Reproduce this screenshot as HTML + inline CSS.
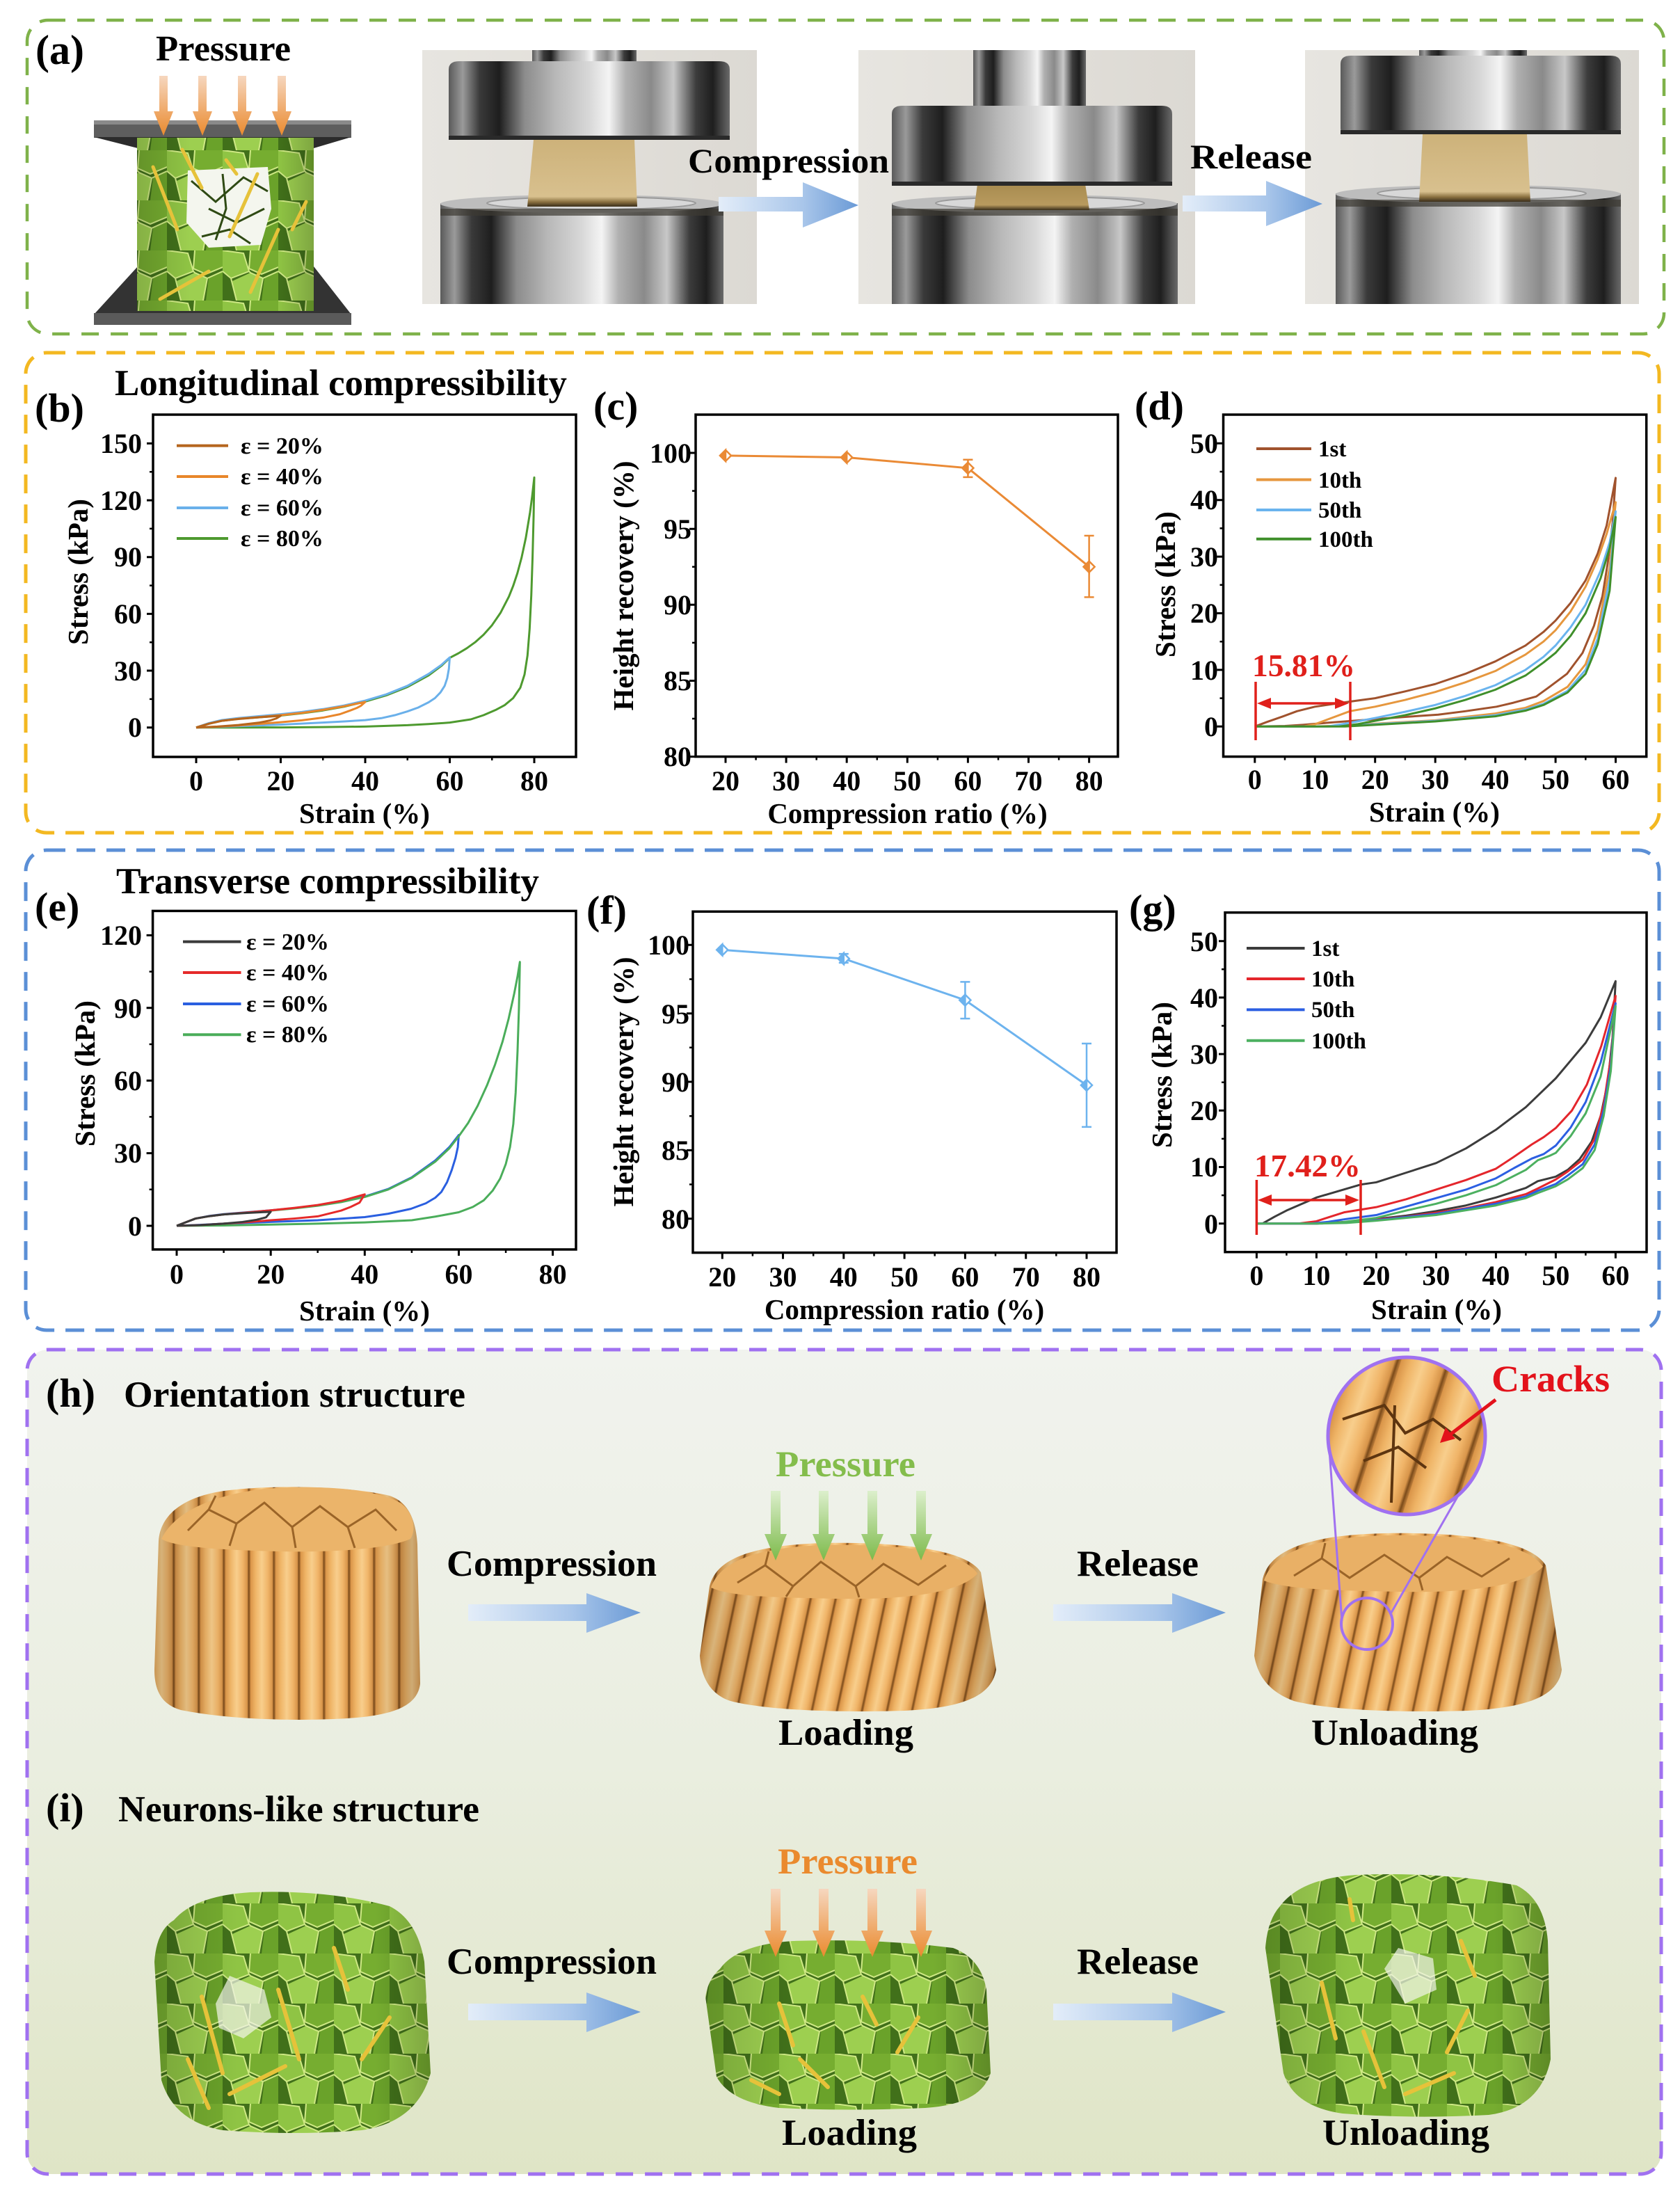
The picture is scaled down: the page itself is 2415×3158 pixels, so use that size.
<!DOCTYPE html>
<html><head><meta charset="utf-8"><style>
html,body{margin:0;padding:0;background:#fff;}
svg{display:block;}
.t{font-family:"Liberation Serif","Times New Roman",serif;font-weight:bold;fill:#000;}
</style></head><body>
<svg width="2415" height="3158" viewBox="0 0 2415 3158" xmlns="http://www.w3.org/2000/svg">
<defs>
<linearGradient id="metal" x1="0" x2="1" y1="0" y2="0">
<stop offset="0" stop-color="#5a5a5a"/><stop offset="0.05" stop-color="#9a9a9a"/><stop offset="0.11" stop-color="#3a3a3a"/><stop offset="0.18" stop-color="#1e1e1e"/><stop offset="0.27" stop-color="#8c8c8c"/><stop offset="0.38" stop-color="#b8b8b8"/><stop offset="0.5" stop-color="#d8d8d8"/><stop offset="0.57" stop-color="#f4f4f4"/><stop offset="0.63" stop-color="#b0b0b0"/><stop offset="0.72" stop-color="#8a8a8a"/><stop offset="0.8" stop-color="#c8c8c8"/><stop offset="0.88" stop-color="#3c3c3c"/><stop offset="0.94" stop-color="#1e1e1e"/><stop offset="1" stop-color="#6a6a6a"/>
</linearGradient>
<linearGradient id="bgPhoto" x1="0" x2="1"><stop offset="0" stop-color="#e7e5e0"/><stop offset="1" stop-color="#dcd9d3"/></linearGradient>
<linearGradient id="sample" x1="0" x2="0" y1="0" y2="1"><stop offset="0" stop-color="#cdb27a"/><stop offset="0.85" stop-color="#d8c08e"/><stop offset="0.93" stop-color="#8a7040"/><stop offset="1" stop-color="#3a2e1a"/></linearGradient>
<linearGradient id="sample2" x1="0" x2="0" y1="0" y2="1"><stop offset="0" stop-color="#a88c50"/><stop offset="0.8" stop-color="#b89a5e"/><stop offset="1" stop-color="#3a2e1a"/></linearGradient>
<linearGradient id="blueArrow" x1="0" x2="1"><stop offset="0" stop-color="#e3edf9"/><stop offset="0.6" stop-color="#a9c6ea"/><stop offset="1" stop-color="#6a9ad6"/></linearGradient>
<linearGradient id="orArrow" x1="0" x2="0" y1="0" y2="1"><stop offset="0" stop-color="#f6d7bf"/><stop offset="1" stop-color="#ea8a2e"/></linearGradient>
<linearGradient id="grArrow" x1="0" x2="0" y1="0" y2="1"><stop offset="0" stop-color="#dcefcc"/><stop offset="1" stop-color="#7cba4a"/></linearGradient>
<linearGradient id="purpBg" x1="0" x2="0" y1="0" y2="1"><stop offset="0" stop-color="#f1f3ee"/><stop offset="0.5" stop-color="#eaeee0"/><stop offset="1" stop-color="#dfe5c6"/></linearGradient>
<linearGradient id="woodG" x1="0" x2="1" y1="0" y2="0">
<stop offset="0" stop-color="#d99448"/><stop offset="0.2" stop-color="#efb466"/><stop offset="0.45" stop-color="#f8ce8c"/><stop offset="0.7" stop-color="#f0b468"/><stop offset="0.87" stop-color="#d8954a"/><stop offset="0.93" stop-color="#7a4a1a"/><stop offset="1" stop-color="#c0803c"/>
</linearGradient>
<pattern id="wood" width="36" height="60" patternUnits="userSpaceOnUse"><rect width="36" height="60" fill="url(#woodG)"/></pattern>
<pattern id="woodS" width="36" height="60" patternUnits="userSpaceOnUse" patternTransform="skewX(-12)"><rect width="36" height="60" fill="url(#woodG)"/></pattern>
<pattern id="woodBig" width="70" height="90" patternUnits="userSpaceOnUse" patternTransform="rotate(18)"><rect width="70" height="90" fill="url(#woodG)"/></pattern>
<pattern id="foam" width="80" height="72" patternUnits="userSpaceOnUse">
<rect width="80" height="72" fill="#41701a"/>
<path d="M0 0 L30 4 L38 30 L12 40 L0 30Z" fill="#8fc444"/>
<path d="M40 0 L80 0 L80 24 L56 34 L38 26Z" fill="#76ad30"/>
<path d="M14 44 L40 32 L58 40 L52 72 L20 72Z" fill="#9dcf50"/>
<path d="M60 40 L80 30 L80 72 L56 72Z" fill="#6aa22a"/>
<path d="M0 0 L30 4 L38 30 L12 40 L0 30 M40 0 L38 26 L56 34 L80 24 M12 40 L20 72 M38 30 L40 32 L58 40 L52 72 M58 40 L80 30" fill="none" stroke="#cfe985" stroke-width="2"/>
</pattern>
<linearGradient id="shade" x1="0" x2="1" y1="0" y2="0"><stop offset="0" stop-color="#000" stop-opacity="0.15"/><stop offset="0.3" stop-color="#000" stop-opacity="0"/><stop offset="0.8" stop-color="#000" stop-opacity="0"/><stop offset="1" stop-color="#000" stop-opacity="0.2"/></linearGradient>
<clipPath id="cp1"><rect x="607" y="72" width="481" height="365"/></clipPath>
<clipPath id="cp2"><rect x="1234" y="72" width="484" height="365"/></clipPath>
<clipPath id="cp3"><rect x="1876" y="72" width="480" height="365"/></clipPath>
<clipPath id="mag"><circle cx="2022" cy="2064" r="113"/></clipPath>
</defs>

<!-- ===== Panel boxes ===== -->
<rect x="39" y="29" width="2353" height="451" rx="30" fill="none" stroke="#7fb24a" stroke-width="4.5" stroke-dasharray="25 17"/>
<rect x="37" y="507" width="2348" height="690" rx="30" fill="none" stroke="#f3b821" stroke-width="5" stroke-dasharray="27 16"/>
<rect x="37" y="1222" width="2348" height="690" rx="30" fill="none" stroke="#5b8fd6" stroke-width="5" stroke-dasharray="27 16"/>
<rect x="39" y="1940" width="2349" height="1185" rx="30" fill="url(#purpBg)" stroke="#a071f0" stroke-width="5" stroke-dasharray="25 17"/>

<!-- ===== Panel (a) ===== -->
<text class="t" x="51" y="92" font-size="60">(a)</text>
<text class="t" x="224" y="87" font-size="52" textLength="194" lengthAdjust="spacingAndGlyphs">Pressure</text>
<rect x="135" y="173" width="370" height="25" fill="#5e5e5e"/>
<rect x="135" y="173" width="370" height="6" fill="#8a8a8a"/>
<polygon points="135,197 505,197 451,213 198,213" fill="#2c2c2c"/>
<polygon points="198,383 451,383 505,452 135,452" fill="#333"/>
<rect x="135" y="450" width="370" height="17" fill="#5a5a5a"/>
<rect x="197" y="198" width="254" height="249" fill="url(#foam)"/>
<rect x="197" y="198" width="254" height="249" fill="url(#shade)"/>
<polygon points="270,245 385,240 390,300 375,352 300,356 268,320" fill="#f4f6ee"/>
<path d="M275 260 L310 290 L350 255 L385 275 M300 300 L340 320 L380 300 M290 340 L330 330 L360 350 M320 250 L325 300 L310 345" fill="none" stroke="#2f4a14" stroke-width="3"/>
<path d="M220 240 L255 330 M262 215 L290 270 M330 340 L370 250 M360 420 L400 330 M230 430 L300 390 M420 330 L440 290 M325 230 L340 250" stroke="#e6c23a" stroke-width="5" stroke-linecap="round"/>
<g fill="url(#orArrow)">
<path d="M229 109 h12 v51 h8 l-14 35 l-14 -35 h8z"/>
<path d="M285 109 h12 v51 h8 l-14 35 l-14 -35 h8z"/>
<path d="M342 109 h12 v51 h8 l-14 35 l-14 -35 h8z"/>
<path d="M399 109 h12 v51 h8 l-14 35 l-14 -35 h8z"/>
</g>

<g clip-path="url(#cp1)">
<rect x="607" y="72" width="481" height="365" fill="url(#bgPhoto)"/>
<rect x="765" y="72" width="150" height="24" fill="url(#metal)"/>
<rect x="633" y="292" width="407" height="150" fill="url(#metal)"/>
<ellipse cx="836" cy="293" rx="203" ry="13" fill="#bdbdbd"/>
<ellipse cx="850" cy="292" rx="150" ry="9" fill="#d8d8d8" stroke="#9a9a9a" stroke-width="2"/>
<rect x="633" y="300" width="407" height="10" fill="#3d3a33" opacity="0.7"/>
<path d="M767 201 L912 201 L916 297 L758 297 Z" fill="url(#sample)"/>
<path d="M645 100 Q645 88 660 88 L1034 88 Q1049 88 1049 100 L1049 192 Q1049 201 1040 201 L654 201 Q645 201 645 192 Z" fill="url(#metal)"/>
<rect x="645" y="195" width="404" height="6" fill="#2a2a2a"/>
</g>
<g clip-path="url(#cp2)">
<rect x="1234" y="72" width="484" height="365" fill="url(#bgPhoto)"/>
<rect x="1399" y="72" width="162" height="84" fill="url(#metal)"/>
<rect x="1282" y="292" width="411" height="150" fill="url(#metal)"/>
<ellipse cx="1487" cy="293" rx="205" ry="13" fill="#bdbdbd"/>
<ellipse cx="1495" cy="292" rx="150" ry="9" fill="#d8d8d8" stroke="#9a9a9a" stroke-width="2"/>
<rect x="1282" y="300" width="411" height="10" fill="#3d3a33" opacity="0.7"/>
<path d="M1405 265 L1560 265 L1566 302 L1400 302 Z" fill="url(#sample2)"/>
<path d="M1282 164 Q1282 152 1297 152 L1670 152 Q1685 152 1685 164 L1685 258 Q1685 267 1676 267 L1291 267 Q1282 267 1282 258 Z" fill="url(#metal)"/>
<rect x="1282" y="261" width="403" height="6" fill="#2a2a2a"/>
</g>
<g clip-path="url(#cp3)">
<rect x="1876" y="72" width="480" height="365" fill="url(#bgPhoto)"/>
<rect x="2040" y="72" width="155" height="14" fill="url(#metal)"/>
<rect x="1920" y="278" width="410" height="165" fill="url(#metal)"/>
<ellipse cx="2125" cy="279" rx="205" ry="13" fill="#bdbdbd"/>
<ellipse cx="2130" cy="278" rx="150" ry="9" fill="#d8d8d8" stroke="#9a9a9a" stroke-width="2"/>
<rect x="1920" y="287" width="410" height="10" fill="#3d3a33" opacity="0.7"/>
<path d="M2045 193 L2195 193 L2200 290 L2040 290 Z" fill="url(#sample)"/>
<path d="M1927 92 Q1927 80 1942 80 L2315 80 Q2330 80 2330 92 L2330 184 Q2330 193 2321 193 L1936 193 Q1927 193 1927 184 Z" fill="url(#metal)"/>
<rect x="1927" y="187" width="403" height="6" fill="#2a2a2a"/>
</g>
<path d="M1033 283 H1154 V262 L1234 295 L1154 327 V304 H1033 Z" fill="url(#blueArrow)"/>
<path d="M1700 281 H1820 V260 L1901 293 L1820 325 V304 H1700 Z" fill="url(#blueArrow)"/>
<text class="t" x="989" y="248" font-size="50" textLength="289" lengthAdjust="spacingAndGlyphs">Compression</text>
<text class="t" x="1711" y="242" font-size="50" textLength="175" lengthAdjust="spacingAndGlyphs">Release</text>

<!-- ===== Panel (b) ===== -->
<text class="t" x="50" y="606" font-size="58">(b)</text>
<text class="t" x="165" y="568" font-size="53" textLength="650" lengthAdjust="spacingAndGlyphs">Longitudinal compressibility</text>
<rect x="220" y="596" width="608" height="492" fill="none" stroke="#000" stroke-width="3.5"/>
<path d="M282 1088v9M403.5 1088v9M525 1088v9M646.5 1088v9M768 1088v9M220 1045.7h-9M220 964h-9M220 882.4h-9M220 800.7h-9M220 719.1h-9M220 637.4h-9" stroke="#000" stroke-width="3"/>
<path d="M342.75 1088v5M464.25 1088v5M585.75 1088v5M707.25 1088v5M220 1004.9h-5M220 923.2h-5M220 841.6h-5M220 759.9h-5M220 678.2h-5" stroke="#000" stroke-width="2.5"/>
<g class="t" font-size="40" text-anchor="middle">
<text x="282" y="1136">0</text><text x="403.5" y="1136">20</text><text x="525" y="1136">40</text><text x="646.5" y="1136">60</text><text x="768" y="1136">80</text>
</g>
<g class="t" font-size="40" text-anchor="end">
<text x="204" y="1059">0</text><text x="204" y="978">30</text><text x="204" y="896">60</text><text x="204" y="814">90</text><text x="204" y="733">120</text><text x="204" y="651">150</text>
</g>
<text class="t" x="524" y="1183" font-size="41" text-anchor="middle">Strain (%)</text>
<text class="t" font-size="41" text-anchor="middle" dominant-baseline="central" transform="translate(112 822) rotate(-90)">Stress (kPa)</text>
<g fill="none" stroke-width="3" stroke-linejoin="round" transform="matrix(6.075 0 0 -2.722 282 1045.7)">
<polyline vector-effect="non-scaling-stroke" stroke="#4e9a2f" points="0,0 3,2 6,3.5 10,4.6 15,5.4 20,6.3 25,7.5 30,9 35,11 40,13.7 45,17 50,21.4 55,27.5 58,32.5 60,36.8 62,39.1 64,41.8 66,45 68,49 70,54 72,60.5 74,69.1 75,74.7 76,81.4 77,89.7 78,100.1 79,113.6 79.5,122 80,132 79.85,112 79.6,90 79.3,70 78.9,52 78.4,38 77.7,28 76.7,21 75,15.5 73,11.8 71,9.4 68,6.5 65,4.3 60,2.6 55,1.8 50,1.2 40,0.5 30,0.2 20,0.05 10,0 0,0"/>
<polyline vector-effect="non-scaling-stroke" stroke="#6ab0ea" points="0,0 3,2.3 6,3.9 10,5 15,6 20,7 25,8.2 30,9.7 35,11.6 40,14.2 45,17.5 50,22 55,28.3 58,33 60,37 59.8,31 59.4,26 58.8,22 57.8,18.5 56.5,15.5 55,13.3 52.5,10.5 50,8.5 47,6.5 44,5 40,3.9 35,3.2 30,2.6 20,1.5 10,0.7 5,0.3 0,0"/>
<polyline vector-effect="non-scaling-stroke" stroke="#e8862a" points="0,0 3,2 6,3.5 10,4.6 15,5.5 20,6.5 25,7.7 30,9.3 35,11.2 40,13.5 39,11.5 38,10.3 36.5,9 34,7 30,5.2 25,3.8 20,2.8 15,1.9 10,1.1 5,0.4 0,0"/>
<polyline vector-effect="non-scaling-stroke" stroke="#b5651d" points="0,0 3,2 6,3.5 10,4.5 15,5.4 20,6.2 19,4.8 17.5,3.7 15,2.6 10,1.3 5,0.5 0,0"/>
</g>
<g stroke-width="4"><line x1="254" y1="640.6" x2="328" y2="640.6" stroke="#b5651d"/><line x1="254" y1="685" x2="328" y2="685" stroke="#e8862a"/><line x1="254" y1="730" x2="328" y2="730" stroke="#6ab0ea"/><line x1="254" y1="774" x2="328" y2="774" stroke="#4e9a2f"/></g>
<g class="t" font-size="34"><text x="346" y="652">ε = 20%</text><text x="346" y="696">ε = 40%</text><text x="346" y="741">ε = 60%</text><text x="346" y="785">ε = 80%</text></g>

<!-- ===== Panel (c) ===== -->
<text class="t" x="853" y="603" font-size="58">(c)</text>
<rect x="1000" y="596" width="607" height="491.6" fill="none" stroke="#000" stroke-width="3.5"/>
<path d="M1043 1087.6v9M1130.1 1087.6v9M1217.2 1087.6v9M1304.3 1087.6v9M1391.4 1087.6v9M1478.5 1087.6v9M1565.6 1087.6v9M1000 1087.6h-9M1000 978.5h-9M1000 869.3h-9M1000 760.2h-9M1000 651h-9" stroke="#000" stroke-width="3"/>
<path d="M1086.6 1087.6v5M1173.7 1087.6v5M1260.8 1087.6v5M1347.9 1087.6v5M1435 1087.6v5M1522.1 1087.6v5M1000 1033h-5M1000 923.9h-5M1000 814.8h-5M1000 705.6h-5" stroke="#000" stroke-width="2.5"/>
<g class="t" font-size="40" text-anchor="middle">
<text x="1043" y="1136">20</text><text x="1130.1" y="1136">30</text><text x="1217.2" y="1136">40</text><text x="1304.3" y="1136">50</text><text x="1391.4" y="1136">60</text><text x="1478.5" y="1136">70</text><text x="1565.6" y="1136">80</text>
</g>
<g class="t" font-size="40" text-anchor="end">
<text x="994" y="1101">80</text><text x="994" y="992">85</text><text x="994" y="883">90</text><text x="994" y="774">95</text><text x="994" y="665">100</text>
</g>
<text class="t" x="1304.5" y="1183" font-size="41" text-anchor="middle">Compression ratio (%)</text>
<text class="t" font-size="41" text-anchor="middle" dominant-baseline="central" transform="translate(896 842) rotate(-90)">Height recovery (%)</text>
<polyline points="1043,654.9 1217.2,657.5 1391.4,672.8 1565.6,814.7" fill="none" stroke="#ea8a35" stroke-width="3"/>
<path d="M1391.4 685.9V660.8M1384.4 685.9h14M1384.4 660.8h14M1565.6 858.4V770M1558.6 858.4h14M1558.6 770h14" stroke="#ea8a35" stroke-width="2.5" fill="none"/>
<g stroke="#ea8a35" stroke-width="2.5">
<path d="M1035 654.9L1043 646.9L1051 654.9L1043 662.9Z" fill="#fff"/><path d="M1043 646.9L1035 654.9L1043 662.9Z" fill="#ea8a35"/>
<path d="M1209.2 657.5L1217.2 649.5L1225.2 657.5L1217.2 665.5Z" fill="#fff"/><path d="M1217.2 649.5L1209.2 657.5L1217.2 665.5Z" fill="#ea8a35"/>
<path d="M1383.4 672.8L1391.4 664.8L1399.4 672.8L1391.4 680.8Z" fill="#fff"/><path d="M1391.4 664.8L1383.4 672.8L1391.4 680.8Z" fill="#ea8a35"/>
<path d="M1557.6 814.7L1565.6 806.7L1573.6 814.7L1565.6 822.7Z" fill="#fff"/><path d="M1565.6 806.7L1557.6 814.7L1565.6 822.7Z" fill="#ea8a35"/>
</g>

<!-- ===== Panel (d) ===== -->
<text class="t" x="1631" y="603" font-size="58">(d)</text>
<rect x="1758.5" y="596" width="608.2" height="491.6" fill="none" stroke="#000" stroke-width="3.5"/>
<path d="M1803.8 1087.6v9M1890.3 1087.6v9M1976.7 1087.6v9M2063.2 1087.6v9M2149.6 1087.6v9M2236.1 1087.6v9M2322.5 1087.6v9M1758.5 1044.3h-9M1758.5 962.9h-9M1758.5 881.5h-9M1758.5 800.1h-9M1758.5 718.7h-9M1758.5 637.3h-9" stroke="#000" stroke-width="3"/>
<path d="M1847 1087.6v5M1933.5 1087.6v5M2019.9 1087.6v5M2106.4 1087.6v5M2192.8 1087.6v5M2279.3 1087.6v5M1758.5 1003.6h-5M1758.5 922.2h-5M1758.5 840.8h-5M1758.5 759.4h-5M1758.5 678h-5" stroke="#000" stroke-width="2.5"/>
<g class="t" font-size="40" text-anchor="middle">
<text x="1803.8" y="1134">0</text><text x="1890.3" y="1134">10</text><text x="1976.7" y="1134">20</text><text x="2063.2" y="1134">30</text><text x="2149.6" y="1134">40</text><text x="2236.1" y="1134">50</text><text x="2322.5" y="1134">60</text>
</g>
<g class="t" font-size="40" text-anchor="end">
<text x="1751" y="1058">0</text><text x="1751" y="977">10</text><text x="1751" y="895">20</text><text x="1751" y="814">30</text><text x="1751" y="732">40</text><text x="1751" y="651">50</text>
</g>
<text class="t" x="2062" y="1181" font-size="41" text-anchor="middle">Strain (%)</text>
<text class="t" font-size="41" text-anchor="middle" dominant-baseline="central" transform="translate(1675 840) rotate(-90)">Stress (kPa)</text>
<g fill="none" stroke-width="3" stroke-linejoin="round" transform="matrix(8.645 0 0 -8.14 1803.8 1044.3)">
<polyline vector-effect="non-scaling-stroke" stroke="#a0522d" points="0,0 2,0.8 4.7,1.8 7,2.7 10,3.5 15.8,4.4 20,5 25,6.2 30,7.5 35,9.3 40,11.5 45,14.3 48,16.7 50,18.7 52.5,21.8 55,25.8 57,30.5 58.5,35.5 60,43.9 59.5,36 58.7,29 57.8,23 56.4,17.8 54.5,13 51.9,9.3 49,7 46.8,5.3 43,4.2 40.2,3.5 35,2.7 30.5,2.1 25,1.7 20,1.3 12.5,0.7 8,0.3 5,0.1 0,0"/>
<polyline vector-effect="non-scaling-stroke" stroke="#e6973e" points="0,0 8,0 10,0.4 12,1.2 15.8,2.7 20,3.5 25,4.7 30,6.1 35,7.8 40,9.8 45,12.7 48,15 50,17 52.5,20.3 55,24.7 57,29.5 58.5,34 60,39.6 59,28 57,17 55,11 52,7 48,4.5 45,3.3 40,2.3 30,1.1 20,0.5 15,0.2 10,0 0,0"/>
<polyline vector-effect="non-scaling-stroke" stroke="#6ab4ee" points="0,0 12,0 15,0.5 20,1.5 25,2.6 30,3.8 35,5.4 40,7.3 45,10 48,12.3 50,14.3 52.5,17.5 55,21.5 57.5,27.5 59,32.5 60,38 59,26 57,15.5 55,10 52,6.3 48,4 45,3 40,2 30,1 20,0.4 15,0.1 12,0 0,0"/>
<polyline vector-effect="non-scaling-stroke" stroke="#3f8f2b" points="0,0 14,0 17,0.4 20,1 25,2 30,3.2 35,4.7 40,6.5 45,9 48,11.3 50,13 52.5,16 55,20 57.5,26.2 59,31.5 60,37 59,24 57,14.5 55,9.3 52,6 48,3.8 45,2.8 40,1.8 30,0.9 20,0.3 15,0 0,0"/>
</g>
<g stroke-width="4"><line x1="1806" y1="645" x2="1885" y2="645" stroke="#a0522d"/><line x1="1806" y1="689.5" x2="1885" y2="689.5" stroke="#e6973e"/><line x1="1806" y1="733" x2="1885" y2="733" stroke="#6ab4ee"/><line x1="1806" y1="774.7" x2="1885" y2="774.7" stroke="#3f8f2b"/></g>
<g class="t" font-size="33"><text x="1895" y="656">1st</text><text x="1895" y="701">10th</text><text x="1895" y="744">50th</text><text x="1895" y="786">100th</text></g>
<g stroke="#e0201b" stroke-width="3.5" fill="#e0201b">
<line x1="1805" y1="980" x2="1805" y2="1064"/><line x1="1941" y1="980" x2="1941" y2="1064"/>
<line x1="1820" y1="1011" x2="1926" y2="1011"/>
<path d="M1807 1011 l20 -8 v16z" stroke="none"/><path d="M1939 1011 l-20 -8 v16z" stroke="none"/>
</g>
<text class="t" x="1800" y="972" font-size="45" style="fill:#e0201b" textLength="148" lengthAdjust="spacingAndGlyphs">15.81%</text>

<!-- ===== Panel (e) ===== -->
<text class="t" x="50" y="1323" font-size="58">(e)</text>
<text class="t" x="167" y="1284" font-size="53" textLength="608" lengthAdjust="spacingAndGlyphs">Transverse compressibility</text>
<rect x="219.6" y="1309.4" width="608.4" height="486.6" fill="none" stroke="#000" stroke-width="3.5"/>
<path d="M254 1796v9M389.2 1796v9M524.3 1796v9M659.5 1796v9M794.6 1796v9M219.6 1762h-9M219.6 1657.6h-9M219.6 1553.2h-9M219.6 1448.8h-9M219.6 1344.4h-9" stroke="#000" stroke-width="3"/>
<path d="M321.6 1796v5M456.7 1796v5M591.9 1796v5M727.1 1796v5M219.6 1709.8h-5M219.6 1605.4h-5M219.6 1501h-5M219.6 1396.6h-5" stroke="#000" stroke-width="2.5"/>
<g class="t" font-size="40" text-anchor="middle">
<text x="254" y="1845">0</text><text x="389.2" y="1845">20</text><text x="524.3" y="1845">40</text><text x="659.5" y="1845">60</text><text x="794.6" y="1845">80</text>
</g>
<g class="t" font-size="40" text-anchor="end">
<text x="204" y="1776">0</text><text x="204" y="1671">30</text><text x="204" y="1567">60</text><text x="204" y="1463">90</text><text x="204" y="1358">120</text>
</g>
<text class="t" x="524" y="1898" font-size="41" text-anchor="middle">Strain (%)</text>
<text class="t" font-size="41" text-anchor="middle" dominant-baseline="central" transform="translate(122 1543) rotate(-90)">Stress (kPa)</text>
<g fill="none" stroke-width="3" stroke-linejoin="round" transform="matrix(6.758 0 0 -3.48 254 1762)">
<polyline vector-effect="non-scaling-stroke" stroke="#2a5fe0" points="0,0 2,1.5 4,3 7,4.1 10,4.8 15,5.6 20,6.4 25,7.3 30,8.5 35,10 40,12.1 45,15.2 50,20 55,27 58,32.5 60,37.5 59.8,32.5 59.3,28 58.5,23 57.5,18 56.3,14 55,11.6 53,9.3 49.8,7 45,5 40,3.6 30,2.3 20,1.6 10,0.9 5,0.4 0,0"/>
<polyline vector-effect="non-scaling-stroke" stroke="#4aad5a" points="0,0 2,1.5 4,3 7,4 10,4.7 15,5.5 20,6.3 25,7.2 30,8.3 35,9.8 40,11.9 45,15 50,19.8 55,26.5 58,32 60,37 62,42.5 64,49.5 66,58 67.7,66.5 69.3,76 70.6,85.5 71.8,96 72.5,103 73,109 72.8,90 72.5,72 72.1,55 71.6,42 70.9,32.5 70,25.5 68.8,19.5 67.2,14.5 65.3,10.5 63,7.8 60,5.6 55,3.8 50,2.3 40,1.4 30,0.9 20,0.5 10,0.15 0,0"/>
<polyline vector-effect="non-scaling-stroke" stroke="#e52a2a" points="0,0 2,1.5 4,3 7,4 10,4.7 15,5.5 20,6.4 25,7.4 30,8.6 35,10.3 40,13 39.5,11.5 38.9,9.6 37,7.8 35,6.3 30,3.9 25,3 20,2.3 15,1.5 10,0.9 5,0.3 0,0"/>
<polyline vector-effect="non-scaling-stroke" stroke="#3a3a3a" points="0,0 2,1.5 4,3 7,4 10,4.7 15,5.3 20,5.8 19,3.5 17,2.5 14,1.6 10,0.9 5,0.3 0,0"/>
</g>
<g stroke-width="4"><line x1="263" y1="1353.6" x2="346.5" y2="1353.6" stroke="#3a3a3a"/><line x1="263" y1="1398" x2="346.5" y2="1398" stroke="#e52a2a"/><line x1="263" y1="1443" x2="346.5" y2="1443" stroke="#2a5fe0"/><line x1="263" y1="1487.3" x2="346.5" y2="1487.3" stroke="#4aad5a"/></g>
<g class="t" font-size="34"><text x="354" y="1365">ε = 20%</text><text x="354" y="1409">ε = 40%</text><text x="354" y="1454">ε = 60%</text><text x="354" y="1498">ε = 80%</text></g>

<!-- ===== Panel (f) ===== -->
<text class="t" x="843" y="1328" font-size="58">(f)</text>
<rect x="996" y="1310.3" width="609" height="490.3" fill="none" stroke="#000" stroke-width="3.5"/>
<path d="M1038.3 1800.6v9M1125.5 1800.6v9M1212.8 1800.6v9M1300.1 1800.6v9M1387.4 1800.6v9M1474.7 1800.6v9M1562 1800.6v9M996 1751.7h-9M996 1653.4h-9M996 1555h-9M996 1456.7h-9M996 1358.3h-9" stroke="#000" stroke-width="3"/>
<path d="M1081.9 1800.6v5M1169.2 1800.6v5M1256.5 1800.6v5M1343.7 1800.6v5M1431 1800.6v5M1518.3 1800.6v5M996 1702.5h-5M996 1604.2h-5M996 1505.8h-5M996 1407.5h-5" stroke="#000" stroke-width="2.5"/>
<g class="t" font-size="40" text-anchor="middle">
<text x="1038.3" y="1849">20</text><text x="1125.5" y="1849">30</text><text x="1212.8" y="1849">40</text><text x="1300.1" y="1849">50</text><text x="1387.4" y="1849">60</text><text x="1474.7" y="1849">70</text><text x="1562" y="1849">80</text>
</g>
<g class="t" font-size="40" text-anchor="end">
<text x="991" y="1766">80</text><text x="991" y="1667">85</text><text x="991" y="1569">90</text><text x="991" y="1471">95</text><text x="991" y="1372">100</text>
</g>
<text class="t" x="1300" y="1896" font-size="41" text-anchor="middle">Compression ratio (%)</text>
<text class="t" font-size="41" text-anchor="middle" dominant-baseline="central" transform="translate(896 1555) rotate(-90)">Height recovery (%)</text>
<polyline points="1038.3,1365.4 1212.8,1378 1387.4,1437.6 1562,1559.9" fill="none" stroke="#6db3ee" stroke-width="3"/>
<path d="M1212.8 1383.9V1371.1M1205.8 1383.9h14M1205.8 1371.1h14M1387.4 1464.1V1411.4M1380.4 1464.1h14M1380.4 1411.4h14M1562 1619.9V1500M1555 1619.9h14M1555 1500h14" stroke="#6db3ee" stroke-width="2.5" fill="none"/>
<g stroke="#6db3ee" stroke-width="2.5">
<path d="M1030.3 1365.4L1038.3 1357.4L1046.3 1365.4L1038.3 1373.4Z" fill="#fff"/><path d="M1038.3 1357.4L1030.3 1365.4L1038.3 1373.4Z" fill="#6db3ee"/>
<path d="M1204.8 1378L1212.8 1370L1220.8 1378L1212.8 1386Z" fill="#fff"/><path d="M1212.8 1370L1204.8 1378L1212.8 1386Z" fill="#6db3ee"/>
<path d="M1379.4 1437.6L1387.4 1429.6L1395.4 1437.6L1387.4 1445.6Z" fill="#fff"/><path d="M1387.4 1429.6L1379.4 1437.6L1387.4 1445.6Z" fill="#6db3ee"/>
<path d="M1554 1559.9L1562 1551.9L1570 1559.9L1562 1567.9Z" fill="#fff"/><path d="M1562 1551.9L1554 1559.9L1562 1567.9Z" fill="#6db3ee"/>
</g>

<!-- ===== Panel (g) ===== -->
<text class="t" x="1623" y="1326" font-size="58">(g)</text>
<rect x="1761" y="1311.7" width="606" height="488" fill="none" stroke="#000" stroke-width="3.5"/>
<path d="M1806.4 1799.7v9M1892.4 1799.7v9M1978.4 1799.7v9M2064.4 1799.7v9M2150.4 1799.7v9M2236.4 1799.7v9M2322.4 1799.7v9M1761 1758.7h-9M1761 1677.5h-9M1761 1596.3h-9M1761 1515.1h-9M1761 1433.9h-9M1761 1352.7h-9" stroke="#000" stroke-width="3"/>
<path d="M1849.4 1799.7v5M1935.4 1799.7v5M2021.4 1799.7v5M2107.4 1799.7v5M2193.4 1799.7v5M2279.4 1799.7v5M1761 1718.1h-5M1761 1636.9h-5M1761 1555.7h-5M1761 1474.5h-5M1761 1393.3h-5" stroke="#000" stroke-width="2.5"/>
<g class="t" font-size="40" text-anchor="middle">
<text x="1806.4" y="1847">0</text><text x="1892.4" y="1847">10</text><text x="1978.4" y="1847">20</text><text x="2064.4" y="1847">30</text><text x="2150.4" y="1847">40</text><text x="2236.4" y="1847">50</text><text x="2322.4" y="1847">60</text>
</g>
<g class="t" font-size="40" text-anchor="end">
<text x="1751" y="1773">0</text><text x="1751" y="1691">10</text><text x="1751" y="1610">20</text><text x="1751" y="1529">30</text><text x="1751" y="1448">40</text><text x="1751" y="1367">50</text>
</g>
<text class="t" x="2065" y="1896" font-size="41" text-anchor="middle">Strain (%)</text>
<text class="t" font-size="41" text-anchor="middle" dominant-baseline="central" transform="translate(1670 1545) rotate(-90)">Stress (kPa)</text>
<g fill="none" stroke-width="3" stroke-linejoin="round" transform="matrix(8.6 0 0 -8.12 1806.4 1758.7)">
<polyline vector-effect="non-scaling-stroke" stroke="#3c3c3c" points="0,0 1,0 3,1.2 5,2.3 10,4.6 17.4,6.9 20,7.3 25,9 30,10.7 35,13.3 40,16.6 45,20.6 50,25.7 55,32 57.5,36.5 60,42.9 59.5,33 58.7,25 57.5,19 56,14.5 54,11.4 52,9.5 50,8.3 47,7.5 45,6.3 40,4.6 35,3.2 30,2.2 25,1.4 20,0.8 15,0.3 10,0 0,0"/>
<polyline vector-effect="non-scaling-stroke" stroke="#e4262c" points="0,0 7,0 10,0.4 12,1.1 14.7,2 20,2.9 25,4.3 30,6 35,7.7 40,9.7 43,11.8 46,14 48,15.3 50,16.9 52.7,20 55.2,24.6 57.6,31.4 60,40.3 59.3,30 58,21 56.5,15 54.5,11.3 52,9.2 50,7.8 47,6.2 45,5.2 40,3.8 35,2.7 30,1.9 25,1.2 20,0.7 15,0.25 10,0 0,0"/>
<polyline vector-effect="non-scaling-stroke" stroke="#2c5fe2" points="0,0 9,0 12,0.3 15,0.8 20,1.5 25,3 30,4.5 35,6 40,8 43,9.8 46,11.5 48,12.3 50,13.8 52.5,17 55,21.5 57.5,28.5 60,39 59.2,28 58,20 56.5,14 54.5,10.5 52,8.5 50,7 47,5.8 45,4.8 40,3.5 30,1.7 20,0.6 15,0.2 10,0 0,0"/>
<polyline vector-effect="non-scaling-stroke" stroke="#4cb060" points="0,0 11,0 14,0.2 17,0.6 20,1 25,2.3 30,3.5 35,5 40,6.8 45,9.5 47,11.2 49,12 50,12.5 52.5,15.5 55,19.5 57.5,26 60,38.5 59.2,27 58,19 56.5,13 54.5,9.8 52,7.8 50,6.6 47,5.4 45,4.5 40,3.2 30,1.5 20,0.5 15,0.1 10,0 0,0"/>
</g>
<g stroke-width="4"><line x1="1792" y1="1363" x2="1875.5" y2="1363" stroke="#3c3c3c"/><line x1="1792" y1="1407" x2="1875.5" y2="1407" stroke="#e4262c"/><line x1="1792" y1="1451.4" x2="1875.5" y2="1451.4" stroke="#2c5fe2"/><line x1="1792" y1="1495.7" x2="1875.5" y2="1495.7" stroke="#4cb060"/></g>
<g class="t" font-size="33"><text x="1885" y="1374">1st</text><text x="1885" y="1418">10th</text><text x="1885" y="1462">50th</text><text x="1885" y="1507">100th</text></g>
<g stroke="#e0201b" stroke-width="3.5" fill="#e0201b">
<line x1="1806.4" y1="1696" x2="1806.4" y2="1775"/><line x1="1956" y1="1696" x2="1956" y2="1775"/>
<line x1="1822" y1="1725" x2="1940" y2="1725"/>
<path d="M1808 1725 l20 -8 v16z" stroke="none"/><path d="M1954 1725 l-20 -8 v16z" stroke="none"/>
</g>
<text class="t" x="1803" y="1691" font-size="45" style="fill:#e0201b" textLength="153" lengthAdjust="spacingAndGlyphs">17.42%</text>

<!-- ===== Panel (h) ===== -->
<text class="t" x="66" y="2022" font-size="58">(h)</text>
<text class="t" x="178" y="2022" font-size="53" textLength="491" lengthAdjust="spacingAndGlyphs">Orientation structure</text>
<path d="M228 2215 C230 2180 260 2150 330 2142 C400 2134 500 2136 560 2150 C590 2160 598 2190 600 2220 L604 2420 C600 2455 560 2468 480 2471 C400 2474 320 2470 260 2458 C232 2450 222 2430 222 2400 Z" fill="url(#wood)"/>
<path d="M228 2215 C230 2180 260 2150 330 2142 C400 2134 500 2136 560 2150 C590 2160 598 2190 600 2220 L604 2420 C600 2455 560 2468 480 2471 C400 2474 320 2470 260 2458 C232 2450 222 2430 222 2400 Z" fill="url(#shade)"/>
<path d="M232 2212 C250 2175 300 2150 380 2140 C460 2134 540 2140 575 2160 C596 2175 598 2200 590 2212 C560 2226 480 2232 400 2230 C320 2228 250 2224 232 2212 Z" fill="#ebb46a"/>
<path d="M270 2200 L300 2170 L340 2190 L380 2160 L420 2195 L460 2165 L500 2195 L540 2170 L570 2200 M300 2170 L310 2150 M420 2195 L425 2225 M340 2190 L330 2222 M500 2195 L510 2225" fill="none" stroke="#9a6428" stroke-width="3"/>
<path d="M1020 2280 C1030 2240 1080 2222 1180 2218 C1300 2216 1390 2228 1410 2260 L1432 2400 C1425 2440 1380 2455 1300 2459 C1200 2462 1100 2458 1050 2445 C1020 2435 1008 2410 1006 2380 Z" fill="url(#woodS)"/>
<path d="M1020 2280 C1030 2240 1080 2222 1180 2218 C1300 2216 1390 2228 1410 2260 L1432 2400 C1425 2440 1380 2455 1300 2459 C1200 2462 1100 2458 1050 2445 C1020 2435 1008 2410 1006 2380 Z" fill="url(#shade)"/>
<path d="M1022 2282 C1035 2245 1085 2225 1180 2221 C1300 2219 1385 2230 1405 2262 C1380 2290 1300 2300 1200 2298 C1110 2296 1050 2295 1022 2282 Z" fill="#e9b066"/>
<path d="M1060 2275 L1100 2250 L1140 2280 L1180 2245 L1230 2280 L1270 2248 L1320 2278 L1360 2250 M1100 2250 L1105 2230 M1230 2280 L1235 2296 M1140 2280 L1130 2295" fill="none" stroke="#9a6428" stroke-width="3"/>
<path d="M1815 2270 C1825 2225 1890 2206 1990 2204 C2110 2202 2200 2215 2222 2250 L2245 2400 C2240 2440 2190 2455 2110 2459 C2010 2462 1910 2458 1860 2445 C1825 2432 1808 2410 1803 2380 Z" fill="url(#woodS)"/>
<path d="M1815 2270 C1825 2225 1890 2206 1990 2204 C2110 2202 2200 2215 2222 2250 L2245 2400 C2240 2440 2190 2455 2110 2459 C2010 2462 1910 2458 1860 2445 C1825 2432 1808 2410 1803 2380 Z" fill="url(#shade)"/>
<path d="M1817 2272 C1830 2230 1892 2210 1990 2207 C2110 2205 2195 2218 2218 2252 C2190 2280 2110 2290 2010 2288 C1920 2286 1850 2285 1817 2272 Z" fill="#e9b066"/>
<path d="M1860 2265 L1900 2240 L1940 2268 L1990 2235 L2040 2268 L2080 2238 L2130 2266 L2170 2240 M1900 2240 L1905 2218 M2040 2268 L2045 2286" fill="none" stroke="#9a6428" stroke-width="3"/>
<line x1="1911" y1="2085" x2="1929" y2="2330" stroke="#a071f0" stroke-width="3"/>
<line x1="2096" y1="2150" x2="2000" y2="2318" stroke="#a071f0" stroke-width="3"/>
<circle cx="1965" cy="2334" r="37" fill="none" stroke="#a071f0" stroke-width="4"/>
<g clip-path="url(#mag)">
<rect x="1900" y="1940" width="250" height="250" fill="url(#woodBig)"/>
<path d="M1930 2040 L1990 2020 L2020 2060 L2060 2040 L2100 2070 M1960 2100 L2010 2080 L2050 2110 M2005 2020 L2000 2160" fill="none" stroke="#5d3510" stroke-width="4"/>
</g>
<circle cx="2022" cy="2064" r="113" fill="none" stroke="#a071f0" stroke-width="5"/>
<line x1="2150" y1="2012" x2="2082" y2="2064" stroke="#e3121b" stroke-width="5"/>
<polygon points="2070,2074 2078,2052 2092,2068" fill="#e3121b"/>
<text class="t" x="2144" y="2000" font-size="54" style="fill:#e3121b" textLength="170" lengthAdjust="spacingAndGlyphs">Cracks</text>
<g fill="url(#grArrow)">
<path d="M1108 2143 h14 v62 h9 l-16 38 l-16 -38 h9z"/>
<path d="M1177 2143 h14 v62 h9 l-16 38 l-16 -38 h9z"/>
<path d="M1247 2143 h14 v62 h9 l-16 38 l-16 -38 h9z"/>
<path d="M1317 2143 h14 v62 h9 l-16 38 l-16 -38 h9z"/>
</g>
<text class="t" x="1115" y="2122" font-size="53" style="fill:#84bd4c" textLength="201" lengthAdjust="spacingAndGlyphs">Pressure</text>
<path d="M673 2306 H843 V2290 L921 2318 L843 2347 V2330 H673 Z" fill="url(#blueArrow)"/>
<path d="M1514 2306 H1685 V2290 L1762 2318 L1685 2347 V2330 H1514 Z" fill="url(#blueArrow)"/>
<text class="t" x="642" y="2265" font-size="53" textLength="302" lengthAdjust="spacingAndGlyphs">Compression</text>
<text class="t" x="1548" y="2265" font-size="53" textLength="175" lengthAdjust="spacingAndGlyphs">Release</text>
<text class="t" x="1119" y="2508" font-size="53" textLength="194" lengthAdjust="spacingAndGlyphs">Loading</text>
<text class="t" x="1885" y="2508" font-size="53" textLength="240" lengthAdjust="spacingAndGlyphs">Unloading</text>

<!-- ===== Panel (i) ===== -->
<text class="t" x="66" y="2618" font-size="58">(i)</text>
<text class="t" x="170" y="2618" font-size="53" textLength="519" lengthAdjust="spacingAndGlyphs">Neurons-like structure</text>
<path d="M250 2760 Q280 2725 360 2720 Q470 2716 560 2740 Q600 2760 610 2820 L619 2980 Q600 3050 520 3062 Q420 3070 320 3062 Q250 3050 232 2990 L222 2820 Q225 2775 250 2760 Z" fill="url(#foam)"/>
<path d="M250 2760 Q280 2725 360 2720 Q470 2716 560 2740 Q600 2760 610 2820 L619 2980 Q600 3050 520 3062 Q420 3070 320 3062 Q250 3050 232 2990 L222 2820 Q225 2775 250 2760 Z" fill="url(#shade)"/>
<path d="M310 2880 L330 2840 L380 2860 L390 2900 L350 2930 L315 2915Z" fill="#f2f4ea" opacity="0.7"/>
<path d="M290 2870 L320 2980 M480 2800 L500 2860 M400 2860 L430 2960 M330 3010 L410 2970 M520 2960 L560 2900 M270 2960 L300 3030" stroke="#e6c23a" stroke-width="6" stroke-linecap="round"/>
<path d="M1035 2830 Q1060 2795 1140 2790 Q1260 2786 1370 2800 Q1410 2815 1418 2860 L1424 2980 Q1410 3025 1330 3030 Q1220 3035 1120 3030 Q1050 3022 1030 2985 L1014 2870 Q1018 2845 1035 2830 Z" fill="url(#foam)"/>
<path d="M1035 2830 Q1060 2795 1140 2790 Q1260 2786 1370 2800 Q1410 2815 1418 2860 L1424 2980 Q1410 3025 1330 3030 Q1220 3035 1120 3030 Q1050 3022 1030 2985 L1014 2870 Q1018 2845 1035 2830 Z" fill="url(#shade)"/>
<path d="M1120 2880 L1140 2940 M1240 2870 L1260 2910 M1150 2960 L1190 3000 M1290 2950 L1320 2900 M1080 2990 L1120 3010" stroke="#e6c23a" stroke-width="6" stroke-linecap="round"/>
<path d="M1840 2740 Q1870 2700 1950 2695 Q2070 2690 2180 2710 Q2220 2730 2225 2790 L2229 2960 Q2215 3030 2140 3040 Q2030 3046 1930 3038 Q1860 3028 1845 2980 L1819 2800 Q1822 2760 1840 2740 Z" fill="url(#foam)"/>
<path d="M1840 2740 Q1870 2700 1950 2695 Q2070 2690 2180 2710 Q2220 2730 2225 2790 L2229 2960 Q2215 3030 2140 3040 Q2030 3046 1930 3038 Q1860 3028 1845 2980 L1819 2800 Q1822 2760 1840 2740 Z" fill="url(#shade)"/>
<path d="M1990 2830 L2010 2800 L2060 2815 L2065 2860 L2020 2880Z" fill="#f2f4ea" opacity="0.7"/>
<path d="M1900 2850 L1920 2930 M2100 2790 L2120 2840 M1960 2920 L1990 3000 M2080 2950 L2110 2890 M2020 3010 L2090 2980 M1940 2730 L1945 2760" stroke="#e6c23a" stroke-width="6" stroke-linecap="round"/>
<g fill="url(#orArrow)">
<path d="M1108 2715 h14 v60 h9 l-16 38 l-16 -38 h9z"/>
<path d="M1177 2715 h14 v60 h9 l-16 38 l-16 -38 h9z"/>
<path d="M1247 2715 h14 v60 h9 l-16 38 l-16 -38 h9z"/>
<path d="M1317 2715 h14 v60 h9 l-16 38 l-16 -38 h9z"/>
</g>
<text class="t" x="1118" y="2693" font-size="53" style="fill:#ea8a2e" textLength="201" lengthAdjust="spacingAndGlyphs">Pressure</text>
<path d="M673 2880 H843 V2864 L921 2892 L843 2921 V2904 H673 Z" fill="url(#blueArrow)"/>
<path d="M1514 2880 H1685 V2864 L1762 2892 L1685 2921 V2904 H1514 Z" fill="url(#blueArrow)"/>
<text class="t" x="642" y="2837" font-size="53" textLength="302" lengthAdjust="spacingAndGlyphs">Compression</text>
<text class="t" x="1548" y="2837" font-size="53" textLength="175" lengthAdjust="spacingAndGlyphs">Release</text>
<text class="t" x="1124" y="3083" font-size="53" textLength="194" lengthAdjust="spacingAndGlyphs">Loading</text>
<text class="t" x="1901" y="3083" font-size="53" textLength="240" lengthAdjust="spacingAndGlyphs">Unloading</text>
</svg>
</body></html>
